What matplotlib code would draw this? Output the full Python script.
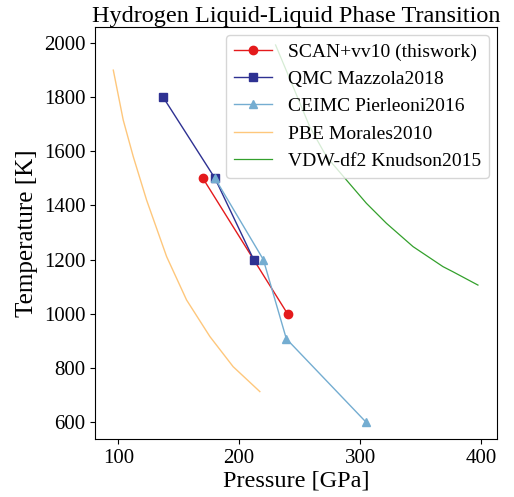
import matplotlib
matplotlib.use("Agg")
import matplotlib.pyplot as plt

plt.rcParams['font.family'] = ['Liberation Serif', 'DejaVu Serif']
plt.rcParams['mathtext.fontset'] = 'stix'

scan_p = [170, 240]
scan_t = [1500, 1000]

qmc_p = [137, 180, 212]
qmc_t = [1800, 1500, 1200]

ceimc_p = [180, 220, 239, 305]
ceimc_t = [1500, 1200, 908, 600]

pbe_p = [95.9, 104.1, 112.4, 123.4, 140.0, 156.5, 175.8, 195.0, 217.1]
pbe_t = [1899, 1715, 1580, 1420, 1211, 1051, 916, 805, 713]

vdw_p = [230.1, 244.6, 258.4, 272.2, 290.0, 305.2, 321.8, 343.8, 368.6, 376.9, 397.5]
vdw_t = [1992, 1838, 1690, 1580, 1487, 1408, 1334, 1248, 1174, 1155, 1106]

fig = plt.figure(figsize=(5.14, 4.97), dpi=100)
ax = fig.add_axes([0.1854, 0.1161, 0.7809, 0.8289])

ax.plot(scan_p, scan_t, '-o', color='#e41a1c', lw=1.0, ms=6, label='SCAN+vv10 (thiswork)')
ax.plot(qmc_p, qmc_t, '-s', color='#2e3192', lw=1.0, ms=6, label='QMC Mazzola2018')
ax.plot(ceimc_p, ceimc_t, '-^', color='#74add1', lw=1.0, ms=6, label='CEIMC Pierleoni2016')
ax.plot(pbe_p, pbe_t, '-', color='#fec77c', lw=1.0, label='PBE Morales2010')
ax.plot(vdw_p, vdw_t, '-', color='#33a02c', lw=0.9, label='VDW-df2 Knudson2015')

ax.set_xlim(81, 413)
ax.set_ylim(537, 2057)
ax.set_xticks([100, 200, 300, 400])
ax.set_yticks([600, 800, 1000, 1200, 1400, 1600, 1800, 2000])
ax.tick_params(labelsize=15)
ax.set_xlabel('Pressure [GPa]', fontsize=17.5, labelpad=2)
ax.set_ylabel('Temperature [K]', fontsize=18, labelpad=4)
ax.set_title('Hydrogen Liquid-Liquid Phase Transition', fontsize=17.5, pad=4)
ax.legend(loc='upper right', fontsize=14, handlelength=2.0, borderaxespad=0.4)

fig.savefig('out.png', dpi=100)
